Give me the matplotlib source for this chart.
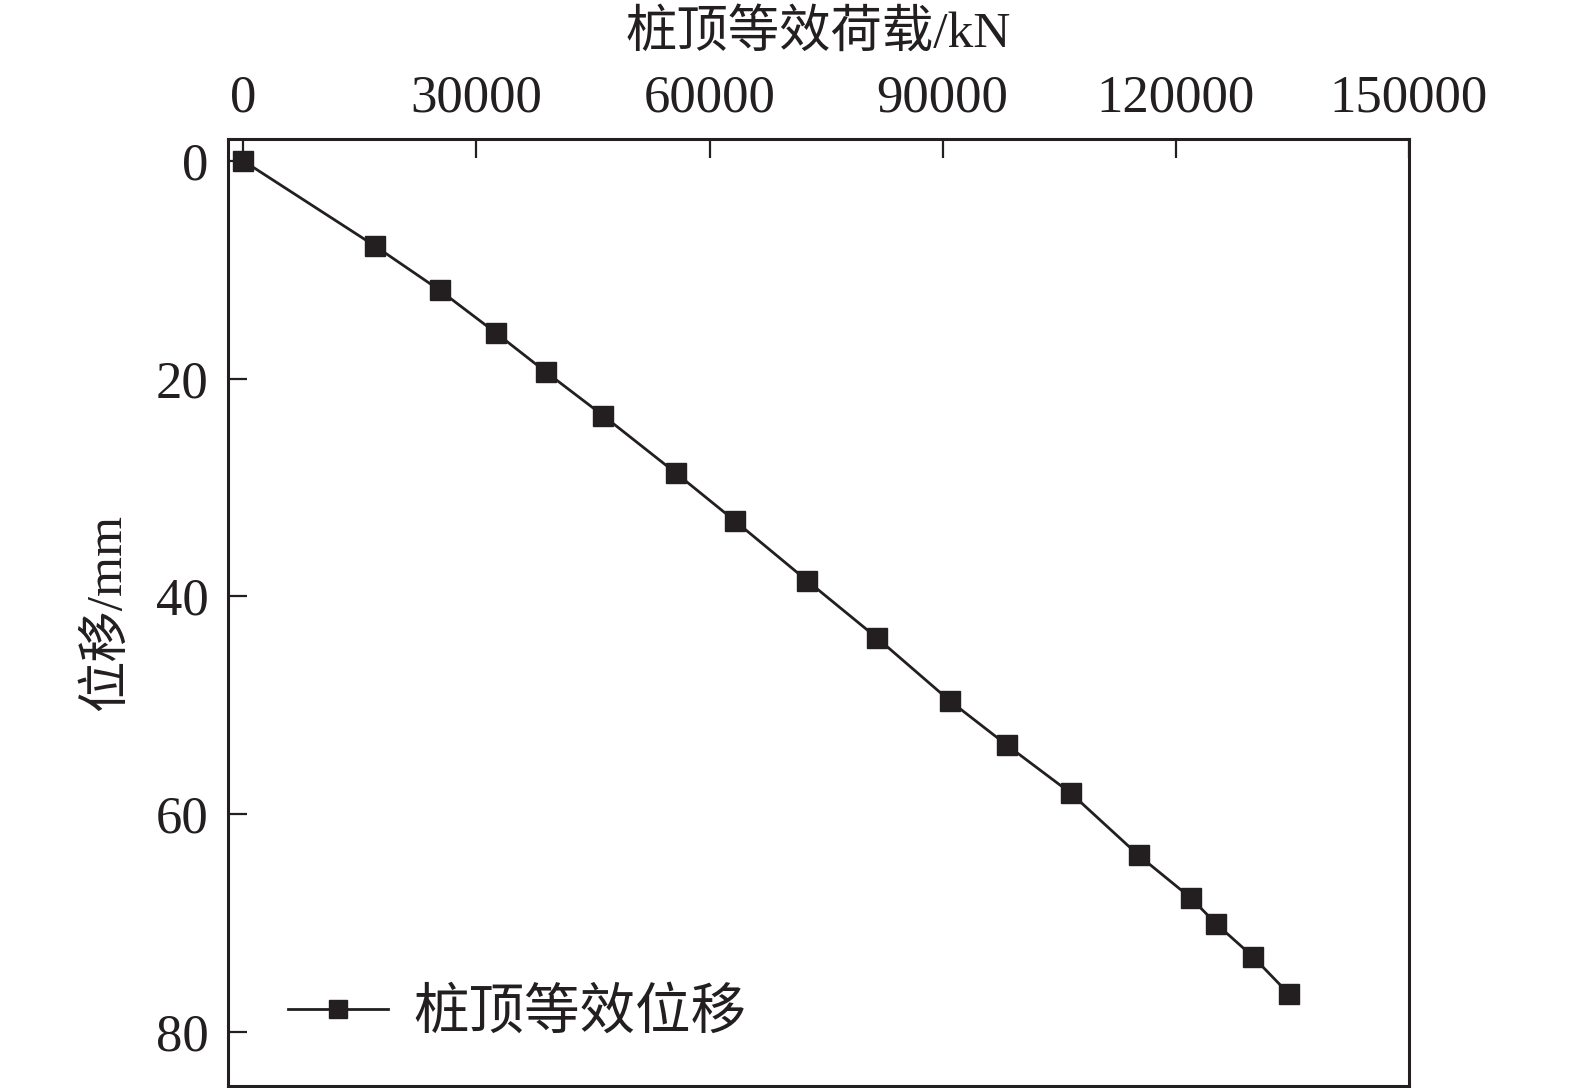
import matplotlib
matplotlib.use("Agg")
import matplotlib.pyplot as plt

plt.rcParams['font.family'] = ['Liberation Serif', 'Noto Sans CJK SC']
plt.rcParams['axes.unicode_minus'] = False

# Data
load_kN = [0, 16900, 25300, 32500, 38950, 46300, 55700, 63300, 72600, 81500,
           90900, 98300, 106500, 115200, 121900, 125200, 129900, 134500]
disp_mm = [0, 7.8, 11.9, 15.8, 19.4, 23.4, 28.7, 33.1, 38.6, 43.8,
           49.6, 53.7, 58.1, 63.8, 67.7, 70.1, 73.1, 76.5]

xticks = [0, 30000, 60000, 90000, 120000, 150000]
yticks = [0, 20, 40, 60, 80]

xlabel = '桩顶等效荷载/kN'
ylabel = '位移/mm'
series_label = '桩顶等效位移'

color = '#231f20'

fig = plt.figure(figsize=(15.75, 10.88), dpi=100)
ax = fig.add_axes([0.1448, 0.0018, 0.8946 - 0.1448, 0.8722 - 0.0018])

ax.plot(load_kN, disp_mm, color=color, lw=2.0, marker='s', ms=15,
        mfc=color, mec=color, label=series_label)

ax.set_xlim(-1950, 150000)
ax.set_ylim(85, -2)
ax.set_xticks(xticks)
ax.set_yticks(yticks)
ax.xaxis.tick_top()
ax.xaxis.set_label_position('top')
ax.tick_params(axis='both', direction='in', length=14, width=1.6,
               labelsize=38, colors=color)
ax.tick_params(axis='x', pad=12, top=True, bottom=False)
ax.tick_params(axis='y', pad=14, left=True, right=False)
for s in ax.spines.values():
    s.set_linewidth(2.2)
    s.set_color(color)

ax.set_xlabel(xlabel, fontsize=37, labelpad=20, color=color)
ax.set_ylabel(ylabel, fontsize=37, labelpad=18, color=color)

leg = ax.legend(loc='center left', bbox_to_anchor=(0.051, 0.0755),
                frameon=False, fontsize=40, handlelength=1.8, markerscale=0.9,
                handletextpad=0.45, borderpad=0, borderaxespad=0)
for t in leg.get_texts():
    t.set_color(color)

fig.savefig('out.png', dpi=100)
